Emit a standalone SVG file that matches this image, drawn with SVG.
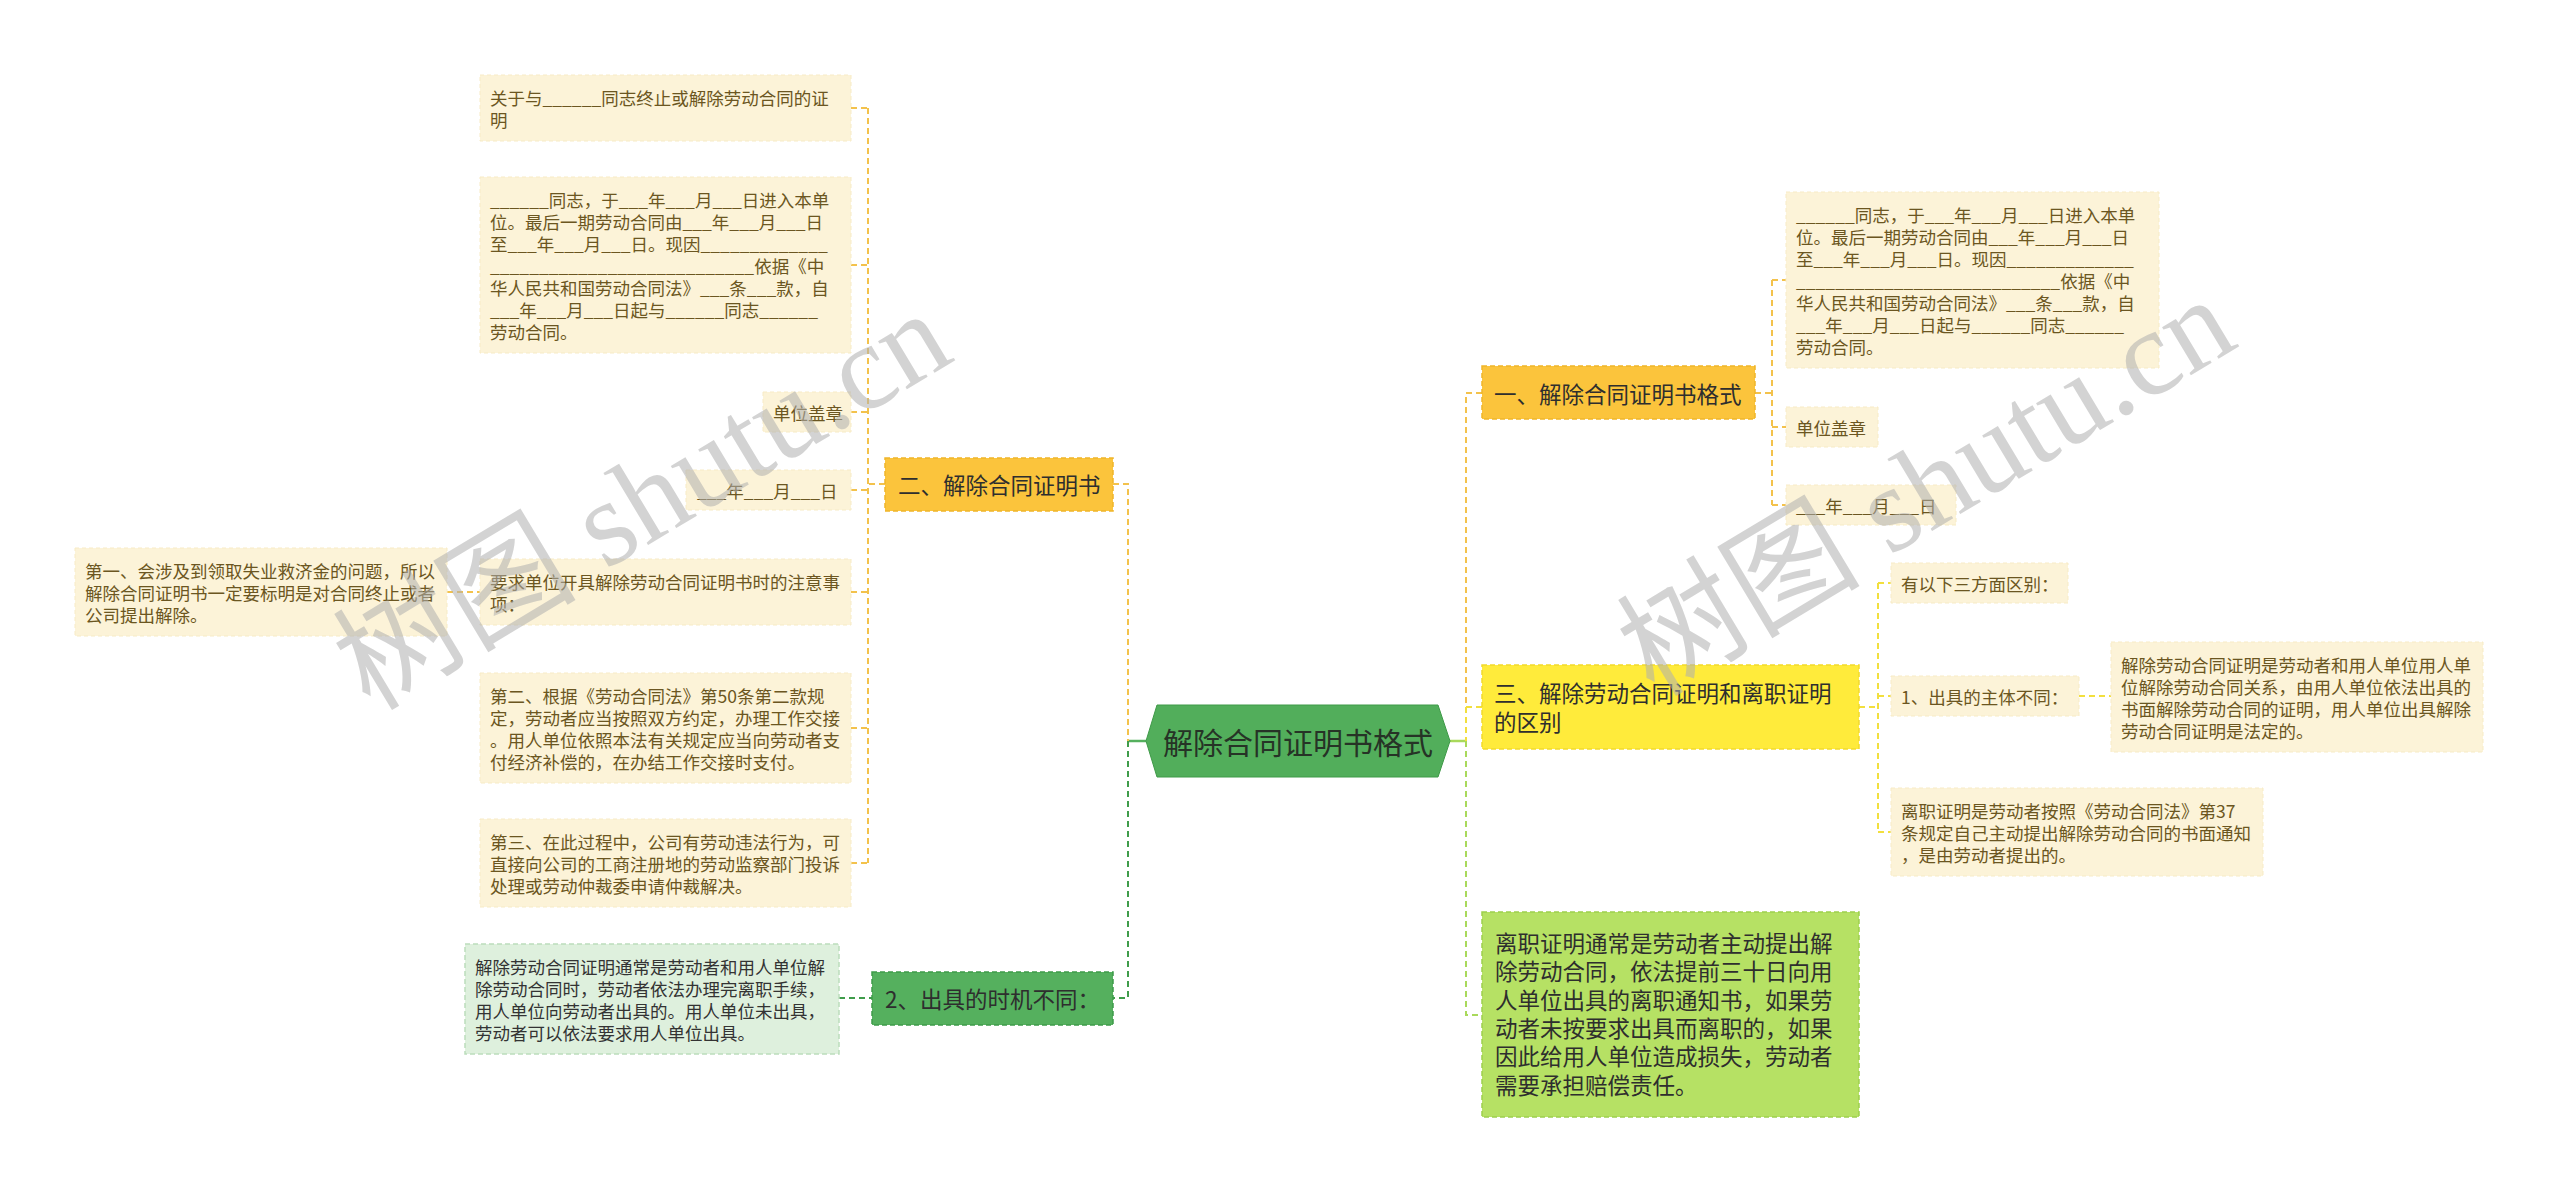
<svg xmlns="http://www.w3.org/2000/svg" width="2560" height="1193" viewBox="0 0 2560 1193">
<style>
text{font-family:"Noto Sans CJK SC","Noto Sans",sans-serif;dominant-baseline:central}
.t17{font-size:17.5px;fill:#6b5621}
.t17d{font-size:17.5px;fill:#333333}
.t22{font-size:22.5px;fill:#2e2e2e}
.box{fill:#FCF3D8;stroke:#F7EBC6;stroke-width:1;stroke-dasharray:4 3}
.orange{fill:#FBC43C;stroke:#F0B52A;stroke-width:1.5;stroke-dasharray:5 3}
.yellow{fill:#FFEB3B;stroke:#F2DA2C;stroke-width:1.5;stroke-dasharray:5 3}
.green{fill:#55B05E;stroke:#3E9A49;stroke-width:1.5;stroke-dasharray:5 3}
.lgreen{fill:#B6E164;stroke:#9DD04C;stroke-width:1.5;stroke-dasharray:5 3}
.pgreen{fill:#DEF0DD;stroke:#BCDDBC;stroke-width:1.5;stroke-dasharray:5 3}
.lnO{stroke:#F3C24C;stroke-width:2;fill:none;stroke-dasharray:6 4}
.lnY{stroke:#F2DF3E;stroke-width:2;fill:none;stroke-dasharray:6 4}
.lnG{stroke:#3F9C4A;stroke-width:2;fill:none;stroke-dasharray:6 4}
.lnL{stroke:#A9D95B;stroke-width:2;fill:none;stroke-dasharray:6 4}
.wm{font-family:"Liberation Serif","Noto Sans CJK SC",serif;font-size:122px;fill:#b0b0b0;opacity:0.55;dominant-baseline:alphabetic}
</style>

<g id="connectors">
  <line x1="1128" y1="741" x2="1146" y2="741" stroke="#55B05E" stroke-width="2.5"/>
  <line x1="1450" y1="741" x2="1466" y2="741" stroke="#A9D95B" stroke-width="2.5"/>
  <path class="lnO" d="M1113 484 H1128 V741"/>
  <path class="lnG" d="M1128 741 V998 H1113"/>
  <path class="lnO" d="M885 484 H868"/>
  <path class="lnO" d="M868 108 V863"/>
  <path class="lnO" d="M851 108 H868 M851 265 H868 M851 412 H868 M851 490 H868 M851 592 H868 M851 728 H868 M851 863 H868"/>
  <path class="lnO" d="M447 592 H480"/>
  <path class="lnG" d="M839 998 H872"/>
  <path class="lnO" d="M1482 393 H1466 V707"/>
  <path class="lnY" d="M1466 707 V741 M1466 707 H1482"/>
  <path class="lnL" d="M1466 741 V1015 H1482"/>
  <path class="lnO" d="M1755 393 H1772 M1772 280 V505 M1772 280 H1786 M1772 427 H1786 M1772 505 H1786"/>
  <path class="lnY" d="M1859 707 H1878 M1878 583 V832 M1878 583 H1891 M1878 696 H1891 M1878 832 H1891 M2079 696 H2111"/>
</g>

<g id="root">
  <polygon points="1146,741 1157,705 1438,705 1450,741 1438,777 1157,777" fill="#52AE5B" stroke="#3F9A48" stroke-width="1"/>
  <text x="1298" y="741" text-anchor="middle" font-size="30" fill="#263326">解除合同证明书格式</text>
</g>

<g id="n-er">
  <rect class="orange" x="885" y="458" width="228" height="53"/>
  <text class="t22" x="898" y="484">二、解除合同证明书</text>
</g>
<g id="n-er-1">
  <rect class="box" x="480" y="75" width="371" height="66"/>
  <text class="t17" x="490" y="97">关于与______同志终止或解除劳动合同的证</text>
  <text class="t17" x="490" y="119">明</text>
</g>
<g id="n-er-2">
  <rect class="box" x="480" y="177" width="371" height="176"/>
  <text class="t17" x="490" y="199">______同志，于___年___月___日进入本单</text>
  <text class="t17" x="490" y="221">位。最后一期劳动合同由___年___月___日</text>
  <text class="t17" x="490" y="243">至___年___月___日。现因_____________</text>
  <text class="t17" x="490" y="265">___________________________依据《中</text>
  <text class="t17" x="490" y="287">华人民共和国劳动合同法》___条___款，自</text>
  <text class="t17" x="490" y="309">___年___月___日起与______同志______</text>
  <text class="t17" x="490" y="331">劳动合同。</text>
</g>
<g id="n-er-3">
  <rect class="box" x="763" y="392" width="88" height="40"/>
  <text class="t17" x="773" y="412">单位盖章</text>
</g>
<g id="n-er-4">
  <rect class="box" x="686" y="470" width="165" height="40"/>
  <text class="t17" x="697" y="490">___年___月___日</text>
</g>
<g id="n-er-5">
  <rect class="box" x="480" y="559" width="371" height="66"/>
  <text class="t17" x="490" y="581">要求单位开具解除劳动合同证明书时的注意事</text>
  <text class="t17" x="490" y="603">项：</text>
</g>
<g id="n-er-5-1">
  <rect class="box" x="75" y="548" width="372" height="88"/>
  <text class="t17" x="85" y="570">第一、会涉及到领取失业救济金的问题，所以</text>
  <text class="t17" x="85" y="592">解除合同证明书一定要标明是对合同终止或者</text>
  <text class="t17" x="85" y="614">公司提出解除。</text>
</g>
<g id="n-er-6">
  <rect class="box" x="480" y="673" width="371" height="110"/>
  <text class="t17" x="490" y="695">第二、根据《劳动合同法》第50条第二款规</text>
  <text class="t17" x="490" y="717">定，劳动者应当按照双方约定，办理工作交接</text>
  <text class="t17" x="490" y="739">。用人单位依照本法有关规定应当向劳动者支</text>
  <text class="t17" x="490" y="761">付经济补偿的，在办结工作交接时支付。</text>
</g>
<g id="n-er-7">
  <rect class="box" x="480" y="819" width="371" height="88"/>
  <text class="t17" x="490" y="841">第三、在此过程中，公司有劳动违法行为，可</text>
  <text class="t17" x="490" y="863">直接向公司的工商注册地的劳动监察部门投诉</text>
  <text class="t17" x="490" y="885">处理或劳动仲裁委申请仲裁解决。</text>
</g>

<g id="n-two">
  <rect class="green" x="872" y="972" width="241" height="53"/>
  <text class="t22" x="885" y="998">2、出具的时机不同：</text>
</g>
<g id="n-two-1">
  <rect class="pgreen" x="465" y="944" width="374" height="110"/>
  <text class="t17d" x="475" y="966">解除劳动合同证明通常是劳动者和用人单位解</text>
  <text class="t17d" x="475" y="988">除劳动合同时，劳动者依法办理完离职手续，</text>
  <text class="t17d" x="475" y="1010">用人单位向劳动者出具的。用人单位未出具，</text>
  <text class="t17d" x="475" y="1032">劳动者可以依法要求用人单位出具。</text>
</g>

<g id="n-yi">
  <rect class="orange" x="1482" y="366" width="273" height="53"/>
  <text class="t22" x="1494" y="393">一、解除合同证明书格式</text>
</g>
<g id="n-yi-1">
  <rect class="box" x="1786" y="192" width="373" height="176"/>
  <text class="t17" x="1796" y="214">______同志，于___年___月___日进入本单</text>
  <text class="t17" x="1796" y="236">位。最后一期劳动合同由___年___月___日</text>
  <text class="t17" x="1796" y="258">至___年___月___日。现因_____________</text>
  <text class="t17" x="1796" y="280">___________________________依据《中</text>
  <text class="t17" x="1796" y="302">华人民共和国劳动合同法》___条___款，自</text>
  <text class="t17" x="1796" y="324">___年___月___日起与______同志______</text>
  <text class="t17" x="1796" y="346">劳动合同。</text>
</g>
<g id="n-yi-2">
  <rect class="box" x="1786" y="407" width="92" height="40"/>
  <text class="t17" x="1796" y="427">单位盖章</text>
</g>
<g id="n-yi-3">
  <rect class="box" x="1786" y="485" width="170" height="40"/>
  <text class="t17" x="1796" y="505">___年___月___日</text>
</g>

<g id="n-san">
  <rect class="yellow" x="1482" y="665" width="377" height="84"/>
  <text class="t22" x="1494" y="692">三、解除劳动合同证明和离职证明</text>
  <text class="t22" x="1494" y="721">的区别</text>
</g>
<g id="n-san-1">
  <rect class="box" x="1891" y="563" width="177" height="40"/>
  <text class="t17" x="1901" y="583">有以下三方面区别：</text>
</g>
<g id="n-san-2">
  <rect class="box" x="1891" y="676" width="188" height="40"/>
  <text class="t17" x="1901" y="696">1、出具的主体不同：</text>
</g>
<g id="n-san-2-1">
  <rect class="box" x="2111" y="642" width="372" height="110"/>
  <text class="t17" x="2121" y="664">解除劳动合同证明是劳动者和用人单位用人单</text>
  <text class="t17" x="2121" y="686">位解除劳动合同关系，由用人单位依法出具的</text>
  <text class="t17" x="2121" y="708">书面解除劳动合同的证明，用人单位出具解除</text>
  <text class="t17" x="2121" y="730">劳动合同证明是法定的。</text>
</g>
<g id="n-san-3">
  <rect class="box" x="1891" y="788" width="372" height="88"/>
  <text class="t17" x="1901" y="810">离职证明是劳动者按照《劳动合同法》第37</text>
  <text class="t17" x="1901" y="832">条规定自己主动提出解除劳动合同的书面通知</text>
  <text class="t17" x="1901" y="854">，是由劳动者提出的。</text>
</g>

<g id="n-lizhi">
  <rect class="lgreen" x="1482" y="912" width="377" height="205"/>
  <text class="t22" x="1495" y="942">离职证明通常是劳动者主动提出解</text>
  <text class="t22" x="1495" y="970">除劳动合同，依法提前三十日向用</text>
  <text class="t22" x="1495" y="999">人单位出具的离职通知书，如果劳</text>
  <text class="t22" x="1495" y="1027">动者未按要求出具而离职的，如果</text>
  <text class="t22" x="1495" y="1055">因此给用人单位造成损失，劳动者</text>
  <text class="t22" x="1495" y="1084">需要承担赔偿责任。</text>
</g>

<text class="wm" transform="rotate(-31 370 712)" x="370" y="712">树图 shutu.cn</text>
<text class="wm" transform="rotate(-31 1654 698)" x="1654" y="698">树图 shutu.cn</text>
</svg>
